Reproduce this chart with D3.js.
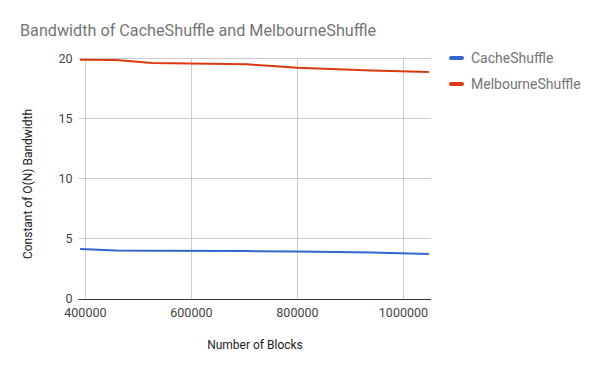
<!DOCTYPE html>
<html>
<head>
<meta charset="utf-8">
<script src="https://cdn.jsdelivr.net/npm/d3@7.9.0/dist/d3.min.js"></script>
<style>
  body { margin: 0; background: #fff; }
  svg { font-family: Roboto, Arial, sans-serif; display: block; }
</style>
</head>
<body>
<svg id="chart" width="600" height="371"></svg>
<script>
// Data
const blocks = [390000, 458000, 526000, 705000, 800000, 940000, 1048000];
const cacheShuffle = [4.12, 3.99, 3.97, 3.94, 3.91, 3.83, 3.70];
const melbourneShuffle = [19.86, 19.83, 19.58, 19.47, 19.19, 18.97, 18.83];
const xTicks = [400000, 600000, 800000, 1000000];
const yTicks = [0, 5, 10, 15, 20];
const seriesNames = ['CacheShuffle', 'MelbourneShuffle'];
const seriesColors = ['#3366cc', '#dc3912'];

const svg = d3.select('#chart');
const area = { left: 78.5, right: 431, top: 58, bottom: 298.5 };

const x = d3.scaleLinear().domain([387000, 1052000]).range([area.left, area.right]);
const y = d3.scaleLinear().domain([0, 20]).range([area.bottom, area.top]);

// Title
svg.append('text')
  .attr('x', 20).attr('y', 36)
  .attr('fill', '#757575').attr('font-size', 16.2)
  .text('Bandwidth of CacheShuffle and MelbourneShuffle');

// Gridlines
svg.append('g').selectAll('line').data(yTicks.filter(d => d > 0)).join('line')
  .attr('x1', area.left).attr('x2', area.right)
  .attr('y1', d => Math.round(y(d)) + 0.5).attr('y2', d => Math.round(y(d)) + 0.5)
  .attr('stroke', '#cccccc');
svg.append('g').selectAll('line').data(xTicks).join('line')
  .attr('x1', d => Math.round(x(d)) + 0.5).attr('x2', d => Math.round(x(d)) + 0.5)
  .attr('y1', area.top).attr('y2', area.bottom)
  .attr('stroke', '#cccccc');

// Y tick labels
svg.append('g').selectAll('text').data(yTicks).join('text')
  .attr('x', 72.5).attr('y', d => y(d) + 4.5)
  .attr('text-anchor', 'end').attr('font-size', 12.5).attr('fill', '#444')
  .text(d => d);

// X tick labels
svg.append('g').selectAll('text').data(xTicks).join('text')
  .attr('x', d => x(d)).attr('y', 316.5)
  .attr('text-anchor', 'middle').attr('font-size', 12.5).attr('fill', '#444')
  .text(d => d);

// Baseline
svg.append('line')
  .attr('x1', area.left).attr('x2', area.right)
  .attr('y1', Math.round(y(0)) + 0.5).attr('y2', Math.round(y(0)) + 0.5)
  .attr('stroke', '#333');

// Axis titles
svg.append('text')
  .attr('x', 255).attr('y', 348.5)
  .attr('text-anchor', 'middle').attr('font-size', 12).attr('fill', '#222')
  .text('Number of Blocks');
svg.append('text')
  .attr('transform', 'translate(32, 184) rotate(-90)')
  .attr('text-anchor', 'middle').attr('font-size', 12).attr('fill', '#222')
  .text('Constant of O(N) Bandwidth');

// Lines
const line = d3.line().x(d => x(d[0])).y(d => y(d[1]));
[cacheShuffle, melbourneShuffle].forEach((vals, i) => {
  svg.append('path')
    .datum(blocks.map((b, j) => [b, vals[j]]))
    .attr('d', line)
    .attr('fill', 'none')
    .attr('stroke', seriesColors[i])
    .attr('stroke-width', 2);
});

// Legend
const legend = svg.append('g').selectAll('g').data(seriesNames).join('g')
  .attr('transform', (d, i) => `translate(450, ${58 + i * 26})`);
legend.append('line')
  .attr('x1', 1).attr('x2', 12).attr('y1', 0).attr('y2', 0)
  .attr('stroke', (d, i) => seriesColors[i])
  .attr('stroke-width', 4).attr('stroke-linecap', 'round');
legend.append('text')
  .attr('x', 21).attr('y', 5)
  .attr('font-size', 14).attr('fill', '#757575')
  .text(d => d);
</script>
</body>
</html>
